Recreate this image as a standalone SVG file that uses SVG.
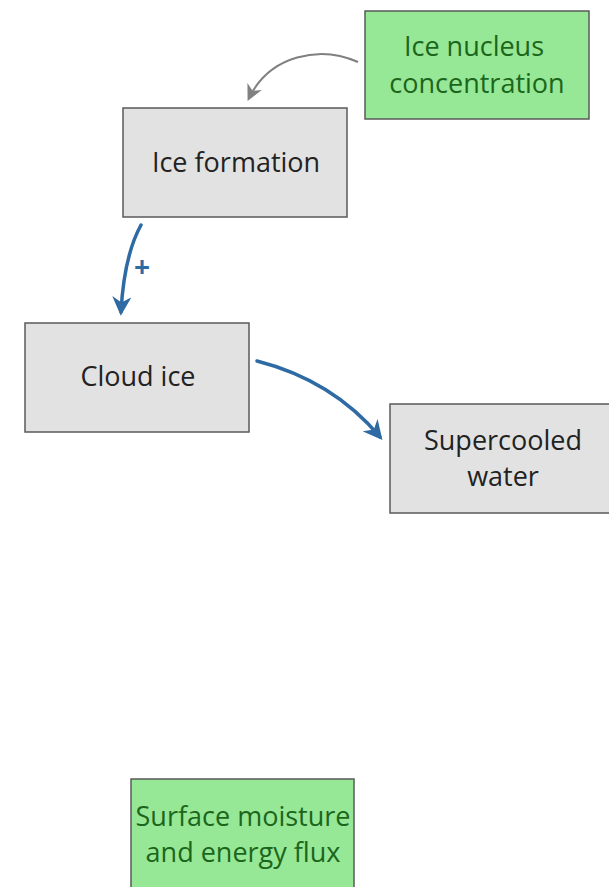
<svg xmlns="http://www.w3.org/2000/svg" width="609" height="887" viewBox="0 0 609 887">
<defs>
<style>
.g{fill:#e2e2e2;stroke:#5a5a5a;stroke-width:1.5}
.n{fill:#96e896;stroke:#5a5a5a;stroke-width:1.5}
text{font-family:"Open Sans","Noto Sans","Liberation Sans",sans-serif;font-size:27px;text-anchor:middle}
.tg{fill:#222}
.tn{fill:#1c661c}
.blue{fill:none;stroke:#2e6aa3;stroke-width:3.5;stroke-linecap:round}
.gray{fill:none;stroke:#808080;stroke-width:2}
</style>
<marker id="ab" viewBox="0 0 10 10" refX="8" refY="5" markerWidth="5.5" markerHeight="5.5" markerUnits="strokeWidth" orient="auto"><path d="M0,0 L10,5 L0,10 L3,5 Z" fill="#2e6aa3"/></marker>
<marker id="ag" viewBox="0 0 10 10" refX="8" refY="5" markerWidth="8" markerHeight="8" markerUnits="strokeWidth" orient="auto"><path d="M0,0 L10,5 L0,10 L3,5 Z" fill="#808080"/></marker>
</defs>
<g id="connectors">
<path class="gray" d="M358,62 C320,45 270,55 249,98" marker-end="url(#ag)"/>
<path class="blue" d="M141,225 C130,245 123,275 121,312" marker-end="url(#ab)"/>
<text x="142" y="277" style="font-size:28px;font-weight:bold;fill:#2e6aa3">+</text>
<path class="blue" d="M257,361 C300,372 345,395 380,437" marker-end="url(#ab)"/>
</g>
<g id="ice-nucleus">
<rect class="n" x="365" y="11" width="224" height="108"/>
<text class="tn" x="474" y="56">Ice nucleus</text>
<text class="tn" x="477" y="93">concentration</text>
</g>
<g id="ice-formation">
<rect class="g" x="123" y="108" width="224" height="109"/>
<text class="tg" x="236" y="172">Ice formation</text>
</g>
<g id="cloud-ice">
<rect class="g" x="25" y="323" width="224" height="109"/>
<text class="tg" x="138" y="386">Cloud ice</text>
</g>
<g id="supercooled-water">
<rect class="g" x="390" y="404" width="225" height="109"/>
<text class="tg" x="503" y="450">Supercooled</text>
<text class="tg" x="503" y="486">water</text>
</g>
<g id="surface-moisture">
<rect class="n" x="131" y="779" width="223" height="115"/>
<text class="tn" x="243" y="826">Surface moisture</text>
<text class="tn" x="243" y="862">and energy flux</text>
</g>
</svg>
